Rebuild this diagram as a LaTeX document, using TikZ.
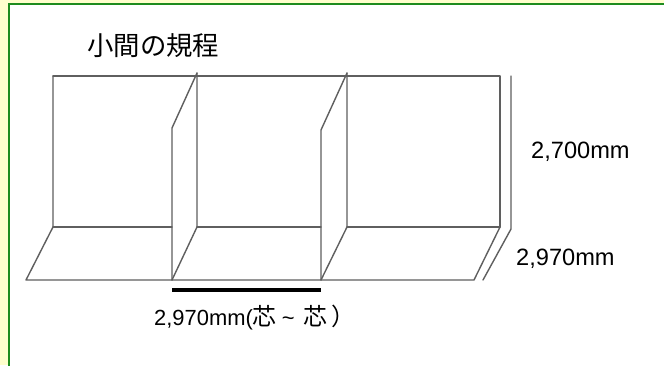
\documentclass[tikz,border=0pt]{standalone}
\usepackage{fontspec}
\setmainfont{Liberation Sans}
\newfontfamily\cjk{Noto Sans CJK JP}
\definecolor{bgyellow}{RGB}{255,255,204}
\definecolor{framegreen}{RGB}{30,140,30}
\definecolor{wallgray}{RGB}{95,95,95}
\begin{document}
\begin{tikzpicture}[x=1bp,y=-1bp,
  wall/.style={draw=wallgray,line width=1.4bp,line cap=round,line join=round},
  dim/.style={draw=black,line width=3.2bp},
  lbl/.style={inner sep=0pt,anchor=base west,font=\fontsize{23.7}{26}\selectfont},
  ttl/.style={inner sep=0pt,anchor=base west,font=\cjk\fontsize{26.5}{30}\selectfont}]
\useasboundingbox (0,0) rectangle (664,365);
\fill[bgyellow] (0,0) rectangle (664,365);
\filldraw[fill=white,draw=framegreen,line width=2.2bp] (9,4) rectangle (700,400);
% coordinates
\coordinate (tl) at (53,76);
\coordinate (tr) at (500,76);
\coordinate (bl) at (53,227);
\coordinate (br) at (500,227);
\coordinate (ftl) at (26,280);
\coordinate (fr) at (474,280);
\coordinate (xt) at (511,76);
\coordinate (xb) at (511,229);
\coordinate (xf) at (483,280);
\coordinate (p1t) at (197,73);
\coordinate (p1b) at (197,227);
\coordinate (p1ft) at (172,128);
\coordinate (p1fb) at (172,280);
\coordinate (p2t) at (347,73);
\coordinate (p2b) at (347,227);
\coordinate (p2ft) at (321,130);
\coordinate (p2fb) at (321,280);
\coordinate (p1fm) at (172,227);
\coordinate (p2fm) at (321,227);
% walls
\draw[wall] (tl) -- (tr) -- (br);
\draw[wall] (tl) -- (bl) -- (ftl) -- (fr) -- (br);
\draw[wall] (bl) -- (p1fm);
\draw[wall] (p1b) -- (p2fm);
\draw[wall] (p2b) -- (br);
\draw[wall] (xt) -- (xb) -- (xf);
\draw[wall] (p1t) -- (p1b) -- (p1fb);
\draw[wall] (p1t) -- (p1ft) -- (p1fb);
\draw[wall] (p2t) -- (p2b) -- (p2fb);
\draw[wall] (p2t) -- (p2ft) -- (p2fb);
% dimension bar
\draw[dim] (172,290) coordinate (d1) -- (321,290) coordinate (d2);
% texts
\node[ttl] (title) at (87,55) {小間の規程};
\node[lbl] (h) at (531,158) {2,700mm};
\node[lbl] (d) at (516,265) {2,970mm};
\node[lbl,font=\fontsize{22}{24}\selectfont] (w) at (154,325)
  {2,970mm({\cjk\fontsize{24}{26}\selectfont 芯}\hspace{5bp}\textasciitilde\hspace{9bp}{\cjk\fontsize{24}{26}\selectfont 芯\hspace{4bp}）}};
\end{tikzpicture}
\end{document}
